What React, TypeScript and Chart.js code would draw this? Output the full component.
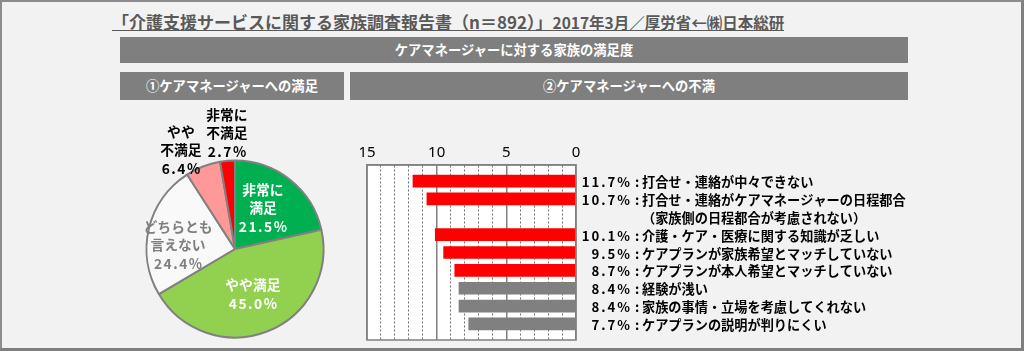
import React, { useEffect, useRef } from 'react';
import { Chart, registerables } from 'chart.js';

Chart.register(...registerables);

// ---------- data ----------
const titleMain = '「介護支援サービスに関する家族調査報告書（n＝892）」';
const titleSub = '2017年3月／厚労省←㈱日本総研';
const headerTop = 'ケアマネージャーに対する家族の満足度';
const headerLeft = '①ケアマネージャーへの満足';
const headerRight = '②ケアマネージャーへの不満';

const pieCategories = ['非常に満足', 'やや満足', 'どちらとも言えない', 'やや不満足', '非常に不満足'];
const pieLabelLines = [['非常に', '満足'], ['やや満足'], ['どちらとも', '言えない'], ['やや', '不満足'], ['非常に', '不満足']];
const pieValues = [21.5, 45.0, 24.4, 6.4, 2.7];

const barCategories = [
  '打合せ・連絡が中々できない',
  '打合せ・連絡がケアマネージャーの日程都合',
  '（家族側の日程都合が考慮されない）',
  '介護・ケア・医療に関する知識が乏しい',
  'ケアプランが家族希望とマッチしていない',
  'ケアプランが本人希望とマッチしていない',
  '経験が浅い',
  '家族の事情・立場を考慮してくれない',
  'ケアプランの説明が判りにくい',
];
const barValues: (number | null)[] = [11.7, 10.7, null, 10.1, 9.5, 8.7, 8.4, 8.4, 7.7];
const highlightCount = 5;
const xMajorTicks = [0, 5, 10, 15];

// ---------- styles ----------
const pieColors = ['#00b050', '#92d050', '#f9f9f9', '#ff9999', '#ff0000'];
const pieTextColors = ['#ffffff', '#ffffff', '#7f7f7f', '#000000', '#000000'];
const pieLabelPlacement = [
  { r: 0.56, shift: -4.4 },
  { r: 0.55, shift: 0 },
  { r: 0.645, shift: -9.3 },
  { r: 1.275, shift: -7.4 },
  { r: 1.314, shift: 0.9 },
];
const JP = '"Noto Sans CJK JP", sans-serif';

const pieLabelPlugin = {
  id: 'pieLabels',
  afterDatasetsDraw(chart: any) {
    const ctx = chart.ctx;
    const meta = chart.getDatasetMeta(0);
    meta.data.forEach((arc: any, i: number) => {
      const p = arc.getProps(['x', 'y', 'startAngle', 'endAngle', 'outerRadius'], true);
      const pl = pieLabelPlacement[i];
      const a = (p.startAngle + p.endAngle) / 2 + (pl.shift * Math.PI) / 180;
      const cx = p.x + Math.cos(a) * p.outerRadius * pl.r;
      const cy = p.y + Math.sin(a) * p.outerRadius * pl.r;
      const lines = [...pieLabelLines[i], pieValues[i].toFixed(1) + '%'];
      const lh = 18.5;
      ctx.save();
      ctx.fillStyle = pieTextColors[i];
      ctx.textAlign = 'center';
      ctx.textBaseline = 'middle';
      lines.forEach((ln, j) => {
        const isPct = j === lines.length - 1;
        ctx.font = `bold 13.8px ${JP}`;
        (ctx as any).letterSpacing = isPct ? '1.5px' : '0px';
        ctx.fillText(ln, cx + (isPct ? 0.75 : 0), cy + (j - (lines.length - 1) / 2) * lh);
      });
      ctx.restore();
    });
  },
};

const framePlugin = {
  id: 'frame',
  beforeDraw(chart: any) {
    const { ctx, chartArea: a } = chart;
    ctx.save();
    ctx.fillStyle = '#ffffff';
    ctx.fillRect(a.left, a.top, a.right - a.left, a.bottom - a.top);
    ctx.restore();
  },
  afterDraw(chart: any) {
    const { ctx, chartArea: a } = chart;
    ctx.save();
    ctx.strokeStyle = '#808080';
    ctx.lineWidth = 1.5;
    ctx.strokeRect(a.left, a.top, a.right - a.left, a.bottom - a.top);
    ctx.restore();
  },
};

const barLabelPlugin = {
  id: 'barLabels',
  afterDraw(chart: any) {
    const ctx = chart.ctx;
    const yScale = chart.scales.y;
    const a = chart.chartArea;
    const pctRight = a.right + 56;
    const colonX = a.right + 59;
    const textX = a.right + 66;
    ctx.save();
    ctx.fillStyle = '#000000';
    ctx.textBaseline = 'middle';
    barCategories.forEach((cat, i) => {
      const y = yScale.getPixelForValue(i) + 1;
      const v = barValues[i];
      if (v != null) {
        ctx.font = `bold 13.2px ${JP}`;
        (ctx as any).letterSpacing = '2px';
        ctx.textAlign = 'right';
        ctx.fillText(v.toFixed(1) + '%', pctRight, y);
        (ctx as any).letterSpacing = '0px';
        ctx.textAlign = 'left';
        ctx.fillText(':', colonX, y);
      }
      (ctx as any).letterSpacing = '0px';
      ctx.textAlign = 'left';
      ctx.font = `bold 13.2px ${JP}`;
      ctx.fillText(cat, textX, y);
    });
    ctx.restore();
  },
};

export default function App() {
  const pieRef = useRef<HTMLCanvasElement>(null);
  const barRef = useRef<HTMLCanvasElement>(null);

  useEffect(() => {
    const pie = new Chart(pieRef.current as HTMLCanvasElement, {
      type: 'pie',
      data: {
        labels: pieCategories,
        datasets: [
          {
            data: pieValues,
            backgroundColor: pieColors,
            borderColor: '#808080',
            borderWidth: 2,
          },
        ],
      },
      options: {
        responsive: false,
        animation: false,
        layout: { padding: { left: 25.5, right: 25.5, top: 61.5, bottom: 9.5 } },
        plugins: { legend: { display: false }, tooltip: { enabled: false } },
      },
      plugins: [pieLabelPlugin],
    });

    const points = barValues
      .map((v, i) => ({ x: v, y: i }))
      .filter((p) => p.x != null);
    const colors = points.map((_, k) => (k < highlightCount ? '#ff0000' : '#808080'));

    const bar = new Chart(barRef.current as HTMLCanvasElement, {
      type: 'bar',
      data: {
        datasets: [
          {
            data: points as any,
            backgroundColor: colors,
            borderWidth: 0,
            barThickness: 12,
          },
        ],
      },
      options: {
        indexAxis: 'y',
        responsive: false,
        animation: false,
        layout: { padding: { left: 17, right: 344, top: 0, bottom: 7 } },
        plugins: { legend: { display: false }, tooltip: { enabled: false } },
        scales: {
          x: {
            type: 'linear',
            position: 'top',
            reverse: true,
            min: 0,
            max: 15,
            offset: false,
            afterFit: (s: any) => {
              s.height = 30;
            },
            ticks: {
              stepSize: 1,
              autoSkip: false,
              maxRotation: 0,
              padding: 3,
              color: '#000000',
              font: { family: '"Noto Sans", sans-serif', size: 15 },
              callback: (v: any) => (xMajorTicks.includes(Number(v)) ? String(v) : ''),
            },
            grid: {
              color: (c: any) => (c.tick && xMajorTicks.includes(c.tick.value) ? '#808080' : '#707070'),
              drawTicks: false,
              offset: false,
              lineWidth: (c: any) => (c.tick && xMajorTicks.includes(c.tick.value) ? 1.5 : 1),
            },
            border: {
              display: true,
              color: '#808080',
              width: 1.5,
              dash: (c: any) =>
                c.type === 'tick' && c.tick && !xMajorTicks.includes(c.tick.value) ? [2, 2] : [],
            },
          },
          y: {
            type: 'linear',
            display: false,
            reverse: true,
            offset: false,
            grace: 0,
            min: -0.9,
            max: barCategories.length - 0.1,
            grid: { offset: false },
          },
        },
      } as any,
      plugins: [framePlugin, barLabelPlugin],
    });

    return () => {
      pie.destroy();
      bar.destroy();
    };
  }, []);

  const headerStyle: React.CSSProperties = {
    position: 'absolute',
    background: '#7f7f7f',
    color: '#ffffff',
    fontWeight: 'bold',
    fontSize: '13.3px',
    textAlign: 'center',
    fontFamily: JP,
    whiteSpace: 'nowrap',
  };

  return (
    <div
      style={{
        position: 'absolute',
        left: 0,
        top: 0,
        width: 1024,
        height: 351,
        background: '#f2f2f2',
        overflow: 'hidden',
        fontFamily: JP,
      }}
    >
      <div
        style={{
          position: 'absolute',
          left: 0,
          top: 0,
          width: 1024,
          height: 351,
          boxSizing: 'border-box',
          borderTop: '2px solid #8c8c8c',
          borderLeft: '2px solid #8c8c8c',
          borderRight: '3px solid #7f7f7f',
          borderBottom: '3px solid #7f7f7f',
        }}
      />
      <div
        style={{
          position: 'absolute',
          left: 112,
          top: 14,
          color: '#595959',
          fontWeight: 'bold',
          whiteSpace: 'nowrap',
          lineHeight: '15px',
          borderBottom: '1px solid #595959',
        }}
      >
        <span style={{ fontSize: '17px' }}>{titleMain}</span>
        <span style={{ fontSize: '15.5px' }}>{titleSub}</span>
      </div>
      <div style={{ ...headerStyle, left: 120, top: 37, width: 788, height: 26, lineHeight: '26px' }}>{headerTop}</div>
      <div style={{ ...headerStyle, left: 120, top: 72, width: 224, height: 28, lineHeight: '28px' }}>{headerLeft}</div>
      <div style={{ ...headerStyle, left: 350, top: 72, width: 558, height: 28, lineHeight: '28px' }}>{headerRight}</div>
      <canvas ref={pieRef} width={230} height={250} style={{ position: 'absolute', left: 120, top: 98 }} />
      <canvas ref={barRef} width={570} height={212} style={{ position: 'absolute', left: 350, top: 135 }} />
    </div>
  );
}
